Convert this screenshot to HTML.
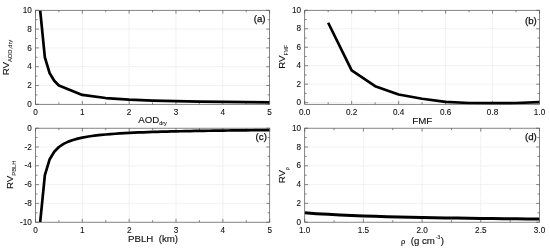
<!DOCTYPE html><html><head><meta charset="utf-8"><title>RV</title><style>html,body{margin:0;padding:0;background:#fff}svg{display:block}text{font-family:"Liberation Sans", Arial, sans-serif;fill:#111;stroke:#111;stroke-width:0.14px}.t{stroke-width:0.1px}.g{stroke-width:0.25px}.s{stroke-width:0.05px}</style></head><body>
<svg width="550" height="252" viewBox="0 0 550 252">
<rect width="550" height="252" fill="#fff"/>
<clipPath id="ca"><rect x="35.5" y="10.3" width="234.10" height="94.60"/></clipPath>
<path d="M82.32 10.3V104.3M129.14 10.3V104.3M175.96 10.3V104.3M222.78 10.3V104.3M35.5 85.50H269.6M35.5 66.70H269.6M35.5 47.90H269.6M35.5 29.10H269.6" stroke="#dadada" stroke-width="0.7" stroke-dasharray="1 1" fill="none"/>
<path d="M35.50 104.3v-3.4M35.50 10.3v3.4M82.32 104.3v-3.4M82.32 10.3v3.4M129.14 104.3v-3.4M129.14 10.3v3.4M175.96 104.3v-3.4M175.96 10.3v3.4M222.78 104.3v-3.4M222.78 10.3v3.4M269.60 104.3v-3.4M269.60 10.3v3.4M58.91 104.3v-2.0M58.91 10.3v2.0M105.73 104.3v-2.0M105.73 10.3v2.0M152.55 104.3v-2.0M152.55 10.3v2.0M199.37 104.3v-2.0M199.37 10.3v2.0M246.19 104.3v-2.0M246.19 10.3v2.0M35.5 104.30h3.4M269.6 104.30h-3.4M35.5 85.50h3.4M269.6 85.50h-3.4M35.5 66.70h3.4M269.6 66.70h-3.4M35.5 47.90h3.4M269.6 47.90h-3.4M35.5 29.10h3.4M269.6 29.10h-3.4M35.5 10.30h3.4M269.6 10.30h-3.4M35.5 94.90h2.0M269.6 94.90h-2.0M35.5 76.10h2.0M269.6 76.10h-2.0M35.5 57.30h2.0M269.6 57.30h-2.0M35.5 38.50h2.0M269.6 38.50h-2.0M35.5 19.70h2.0M269.6 19.70h-2.0" stroke="#555" stroke-width="0.7" fill="none"/>
<path d="M40.18 10.30L44.86 57.30L49.55 72.97L54.23 80.80L58.91 85.50L82.32 94.90L105.73 98.03L129.14 99.60L152.55 100.54L175.96 101.17L199.37 101.61L222.78 101.95L246.19 102.21L269.60 102.42" stroke="#000" stroke-width="2.7" fill="none" stroke-linejoin="round" clip-path="url(#ca)"/>
<rect x="35.5" y="10.3" width="234.10" height="94.00" fill="none" stroke="#555" stroke-width="0.72"/>
<text x="35.50" y="114.60" class="t" font-size="8.2" text-anchor="middle">0</text>
<text x="82.32" y="114.60" class="t" font-size="8.2" text-anchor="middle">1</text>
<text x="129.14" y="114.60" class="t" font-size="8.2" text-anchor="middle">2</text>
<text x="175.96" y="114.60" class="t" font-size="8.2" text-anchor="middle">3</text>
<text x="222.78" y="114.60" class="t" font-size="8.2" text-anchor="middle">4</text>
<text x="269.60" y="114.60" class="t" font-size="8.2" text-anchor="middle">5</text>
<text x="31.80" y="106.95" class="t" font-size="8.2" text-anchor="end">0</text>
<text x="31.80" y="88.15" class="t" font-size="8.2" text-anchor="end">2</text>
<text x="31.80" y="69.35" class="t" font-size="8.2" text-anchor="end">4</text>
<text x="31.80" y="50.55" class="t" font-size="8.2" text-anchor="end">6</text>
<text x="31.80" y="31.75" class="t" font-size="8.2" text-anchor="end">8</text>
<text x="31.80" y="12.95" class="t" font-size="8.2" text-anchor="end">10</text>
<text class="g" x="265.60" y="22.40" font-size="9.7" text-anchor="end">(a)</text>
<clipPath id="cb"><rect x="304.7" y="10.3" width="234.80" height="94.60"/></clipPath>
<path d="M351.66 10.3V104.3M398.62 10.3V104.3M445.58 10.3V104.3M492.54 10.3V104.3M304.7 102.64H539.5M304.7 84.17H539.5M304.7 65.70H539.5M304.7 47.24H539.5M304.7 28.77H539.5" stroke="#dadada" stroke-width="0.7" stroke-dasharray="1 1" fill="none"/>
<path d="M304.70 104.3v-3.4M304.70 10.3v3.4M351.66 104.3v-3.4M351.66 10.3v3.4M398.62 104.3v-3.4M398.62 10.3v3.4M445.58 104.3v-3.4M445.58 10.3v3.4M492.54 104.3v-3.4M492.54 10.3v3.4M539.50 104.3v-3.4M539.50 10.3v3.4M328.18 104.3v-2.0M328.18 10.3v2.0M375.14 104.3v-2.0M375.14 10.3v2.0M422.10 104.3v-2.0M422.10 10.3v2.0M469.06 104.3v-2.0M469.06 10.3v2.0M516.02 104.3v-2.0M516.02 10.3v2.0M304.7 102.64h3.4M539.5 102.64h-3.4M304.7 84.17h3.4M539.5 84.17h-3.4M304.7 65.70h3.4M539.5 65.70h-3.4M304.7 47.24h3.4M539.5 47.24h-3.4M304.7 28.77h3.4M539.5 28.77h-3.4M304.7 10.30h3.4M539.5 10.30h-3.4M304.7 93.40h2.0M539.5 93.40h-2.0M304.7 74.94h2.0M539.5 74.94h-2.0M304.7 56.47h2.0M539.5 56.47h-2.0M304.7 38.00h2.0M539.5 38.00h-2.0M304.7 19.53h2.0M539.5 19.53h-2.0" stroke="#555" stroke-width="0.7" fill="none"/>
<path d="M328.18 22.77L351.66 70.32L375.14 86.20L398.62 94.51L422.10 98.76L445.58 101.90L469.06 103.01L492.54 103.19L516.02 103.01L539.50 102.18" stroke="#000" stroke-width="2.7" fill="none" stroke-linejoin="round" clip-path="url(#cb)"/>
<rect x="304.7" y="10.3" width="234.80" height="94.00" fill="none" stroke="#555" stroke-width="0.72"/>
<text x="304.70" y="114.60" class="t" font-size="8.2" text-anchor="middle">0.0</text>
<text x="351.66" y="114.60" class="t" font-size="8.2" text-anchor="middle">0.2</text>
<text x="398.62" y="114.60" class="t" font-size="8.2" text-anchor="middle">0.4</text>
<text x="445.58" y="114.60" class="t" font-size="8.2" text-anchor="middle">0.6</text>
<text x="492.54" y="114.60" class="t" font-size="8.2" text-anchor="middle">0.8</text>
<text x="539.50" y="114.60" class="t" font-size="8.2" text-anchor="middle">1.0</text>
<text x="301.00" y="105.29" class="t" font-size="8.2" text-anchor="end">0</text>
<text x="301.00" y="86.82" class="t" font-size="8.2" text-anchor="end">2</text>
<text x="301.00" y="68.35" class="t" font-size="8.2" text-anchor="end">4</text>
<text x="301.00" y="49.89" class="t" font-size="8.2" text-anchor="end">6</text>
<text x="301.00" y="31.42" class="t" font-size="8.2" text-anchor="end">8</text>
<text x="301.00" y="12.95" class="t" font-size="8.2" text-anchor="end">10</text>
<text class="g" x="536.80" y="23.60" font-size="9.7" text-anchor="end">(b)</text>
<clipPath id="cc"><rect x="35.5" y="128.2" width="234.20" height="94.60"/></clipPath>
<path d="M82.34 128.2V222.2M129.18 128.2V222.2M176.02 128.2V222.2M222.86 128.2V222.2M35.5 203.40H269.7M35.5 184.60H269.7M35.5 165.80H269.7M35.5 147.00H269.7" stroke="#dadada" stroke-width="0.7" stroke-dasharray="1 1" fill="none"/>
<path d="M35.50 222.2v-3.4M35.50 128.2v3.4M82.34 222.2v-3.4M82.34 128.2v3.4M129.18 222.2v-3.4M129.18 128.2v3.4M176.02 222.2v-3.4M176.02 128.2v3.4M222.86 222.2v-3.4M222.86 128.2v3.4M269.70 222.2v-3.4M269.70 128.2v3.4M58.92 222.2v-2.0M58.92 128.2v2.0M105.76 222.2v-2.0M105.76 128.2v2.0M152.60 222.2v-2.0M152.60 128.2v2.0M199.44 222.2v-2.0M199.44 128.2v2.0M246.28 222.2v-2.0M246.28 128.2v2.0M35.5 222.20h3.4M269.7 222.20h-3.4M35.5 203.40h3.4M269.7 203.40h-3.4M35.5 184.60h3.4M269.7 184.60h-3.4M35.5 165.80h3.4M269.7 165.80h-3.4M35.5 147.00h3.4M269.7 147.00h-3.4M35.5 128.20h3.4M269.7 128.20h-3.4M35.5 212.80h2.0M269.7 212.80h-2.0M35.5 194.00h2.0M269.7 194.00h-2.0M35.5 175.20h2.0M269.7 175.20h-2.0M35.5 156.40h2.0M269.7 156.40h-2.0M35.5 137.60h2.0M269.7 137.60h-2.0" stroke="#555" stroke-width="0.7" fill="none"/>
<path d="M40.18 222.20L44.87 175.20L49.55 159.53L54.24 151.70L58.92 147.00L63.60 143.87L68.29 141.63L72.97 139.95L77.66 138.64L82.34 137.60L87.02 136.75L91.71 136.03L96.39 135.43L101.08 134.91L105.76 134.47L110.44 134.07L115.13 133.73L119.81 133.42L124.50 133.15L129.18 132.90L133.86 132.68L138.55 132.47L143.23 132.29L147.92 132.12L152.60 131.96L157.28 131.82L161.97 131.68L166.65 131.56L171.34 131.44L176.02 131.33L180.70 131.23L185.39 131.14L190.07 131.05L194.76 130.96L199.44 130.89L204.12 130.81L208.81 130.74L213.49 130.67L218.18 130.61L222.86 130.55L227.54 130.49L232.23 130.44L236.91 130.39L241.60 130.34L246.28 130.29L250.96 130.24L255.65 130.20L260.33 130.16L265.02 130.12L269.70 130.08" stroke="#000" stroke-width="2.7" fill="none" stroke-linejoin="round" clip-path="url(#cc)"/>
<rect x="35.5" y="128.2" width="234.20" height="94.00" fill="none" stroke="#555" stroke-width="0.72"/>
<text x="35.50" y="232.50" class="t" font-size="8.2" text-anchor="middle">0</text>
<text x="82.34" y="232.50" class="t" font-size="8.2" text-anchor="middle">1</text>
<text x="129.18" y="232.50" class="t" font-size="8.2" text-anchor="middle">2</text>
<text x="176.02" y="232.50" class="t" font-size="8.2" text-anchor="middle">3</text>
<text x="222.86" y="232.50" class="t" font-size="8.2" text-anchor="middle">4</text>
<text x="269.70" y="232.50" class="t" font-size="8.2" text-anchor="middle">5</text>
<text x="31.80" y="224.85" class="t" font-size="8.2" text-anchor="end">-10</text>
<text x="31.80" y="206.05" class="t" font-size="8.2" text-anchor="end">-8</text>
<text x="31.80" y="187.25" class="t" font-size="8.2" text-anchor="end">-6</text>
<text x="31.80" y="168.45" class="t" font-size="8.2" text-anchor="end">-4</text>
<text x="31.80" y="149.65" class="t" font-size="8.2" text-anchor="end">-2</text>
<text x="31.80" y="130.85" class="t" font-size="8.2" text-anchor="end">0</text>
<text class="g" x="266.90" y="139.50" font-size="9.7" text-anchor="end">(c)</text>
<clipPath id="cd"><rect x="304.7" y="128.2" width="234.80" height="94.60"/></clipPath>
<path d="M363.40 128.2V222.2M422.10 128.2V222.2M480.80 128.2V222.2M304.7 203.40H539.5M304.7 184.60H539.5M304.7 165.80H539.5M304.7 147.00H539.5" stroke="#dadada" stroke-width="0.7" stroke-dasharray="1 1" fill="none"/>
<path d="M304.70 222.2v-3.4M304.70 128.2v3.4M363.40 222.2v-3.4M363.40 128.2v3.4M422.10 222.2v-3.4M422.10 128.2v3.4M480.80 222.2v-3.4M480.80 128.2v3.4M539.50 222.2v-3.4M539.50 128.2v3.4M334.05 222.2v-2.0M334.05 128.2v2.0M392.75 222.2v-2.0M392.75 128.2v2.0M451.45 222.2v-2.0M451.45 128.2v2.0M510.15 222.2v-2.0M510.15 128.2v2.0M304.7 222.20h3.4M539.5 222.20h-3.4M304.7 203.40h3.4M539.5 203.40h-3.4M304.7 184.60h3.4M539.5 184.60h-3.4M304.7 165.80h3.4M539.5 165.80h-3.4M304.7 147.00h3.4M539.5 147.00h-3.4M304.7 128.20h3.4M539.5 128.20h-3.4M304.7 212.80h2.0M539.5 212.80h-2.0M304.7 194.00h2.0M539.5 194.00h-2.0M304.7 175.20h2.0M539.5 175.20h-2.0M304.7 156.40h2.0M539.5 156.40h-2.0M304.7 137.60h2.0M539.5 137.60h-2.0" stroke="#555" stroke-width="0.7" fill="none"/>
<path d="M304.70 212.80L316.44 213.65L328.18 214.37L339.92 214.97L351.66 215.49L363.40 215.93L375.14 216.32L386.88 216.67L398.62 216.98L410.36 217.25L422.10 217.50L433.84 217.72L445.58 217.93L457.32 218.11L469.06 218.28L480.80 218.44L492.54 218.58L504.28 218.72L516.02 218.84L527.76 218.96L539.50 219.07" stroke="#000" stroke-width="3.0" fill="none" stroke-linejoin="round" clip-path="url(#cd)"/>
<rect x="304.7" y="128.2" width="234.80" height="94.00" fill="none" stroke="#555" stroke-width="0.72"/>
<text x="304.70" y="232.50" class="t" font-size="8.2" text-anchor="middle">1.0</text>
<text x="363.40" y="232.50" class="t" font-size="8.2" text-anchor="middle">1.5</text>
<text x="422.10" y="232.50" class="t" font-size="8.2" text-anchor="middle">2.0</text>
<text x="480.80" y="232.50" class="t" font-size="8.2" text-anchor="middle">2.5</text>
<text x="539.50" y="232.50" class="t" font-size="8.2" text-anchor="middle">3.0</text>
<text x="301.00" y="224.85" class="t" font-size="8.2" text-anchor="end">0</text>
<text x="301.00" y="206.05" class="t" font-size="8.2" text-anchor="end">2</text>
<text x="301.00" y="187.25" class="t" font-size="8.2" text-anchor="end">4</text>
<text x="301.00" y="168.45" class="t" font-size="8.2" text-anchor="end">6</text>
<text x="301.00" y="149.65" class="t" font-size="8.2" text-anchor="end">8</text>
<text x="301.00" y="130.85" class="t" font-size="8.2" text-anchor="end">10</text>
<text class="g" x="536.80" y="139.60" font-size="9.7" text-anchor="end">(d)</text>
<text x="138.2" y="122.6" font-size="9.7">AOD<tspan class="s" font-size="5.5" dy="2.6">dry</tspan></text>
<text x="422.2" y="124.4" font-size="9.7" text-anchor="middle">FMF</text>
<text x="128" y="242.4" font-size="9.7" xml:space="preserve">PBLH  (km)</text>
<text x="401" y="244.1" font-size="9.7" xml:space="preserve"><tspan font-size="7.5">ρ</tspan>  (g cm<tspan class="s" font-size="5.5" dx="0.6" dy="-5.0">-3</tspan><tspan dx="0.3" dy="5.0">)</tspan></text>
<text transform="translate(9.0,75.3) rotate(-90)" font-size="9.7">RV<tspan class="s" font-size="5.8" dy="3.0">AOD,dry</tspan></text>
<text transform="translate(285.4,68.7) rotate(-90)" font-size="9.7">RV<tspan class="s" font-size="5.1" dy="3.0">FMF</tspan></text>
<text transform="translate(13.0,189.1) rotate(-90)" font-size="9.7">RV<tspan class="s" font-size="5.9" dy="3.0">PBLH</tspan></text>
<text transform="translate(285.4,183.2) rotate(-90)" font-size="9.7">RV<tspan class="s" font-size="4.8" dy="3.3">ρ</tspan></text>
</svg></body></html>
